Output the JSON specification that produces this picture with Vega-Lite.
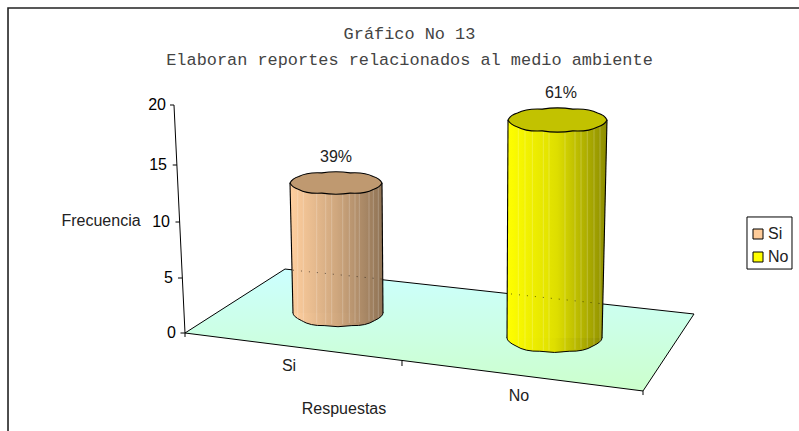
{
"$schema":"https://vega.github.io/schema/vega-lite/v6.json",
"width":799,"height":431,"padding":0,"autosize":{"type":"none"},
"background":"white",
"view":{"stroke":null},
"title":{"text":["Gráfico No 13","Elaboran reportes relacionados al medio ambiente"],"font":"Liberation Mono","fontSize":16.9,"fontWeight":"normal","color":"#444444","lineHeight":26,"anchor":"middle","dx":10,"offset":-69},
"datasets":{
"piso":[{"x":0,"y":0,"y2":0},{"x":0.4396,"y":5.8,"y2":-1.155},{"x":2.0132,"y":2.236,"y2":-5.27},{"x":2.2374,"y":1.727,"y2":1.727}],
"cuerpo":[
{"respuesta":"Si","frecuencia":11,"x":0.4615,"y":13.42,"y2":13.42},{"respuesta":"Si","frecuencia":11,"x":0.4747,"y":13.42,"y2":1.82},{"respuesta":"Si","frecuencia":11,"x":0.8659,"y":13.42,"y2":1.82},{"respuesta":"Si","frecuencia":11,"x":0.8703,"y":1.82,"y2":1.82},
{"respuesta":"No","frecuencia":17,"x":1.4154,"y":-0.45,"y2":-0.45},{"respuesta":"No","frecuencia":17,"x":1.4198,"y":18.75,"y2":-0.45},{"respuesta":"No","frecuencia":17,"x":1.833,"y":18.75,"y2":-0.45},{"respuesta":"No","frecuencia":17,"x":1.8549,"y":18.75,"y2":18.75}],
"lineas":[
{"g":"piso","o":1,"x":0,"y":0},{"g":"piso","o":2,"x":0.4396,"y":5.8},{"g":"piso","o":3,"x":2.2374,"y":1.727},{"g":"piso","o":4,"x":2.0132,"y":-5.27},{"g":"piso","o":5,"x":0,"y":0},
{"g":"eje","o":1,"x":-0.0484,"y":20},{"g":"eje","o":2,"x":0,"y":0},
{"g":"t20","o":1,"x":-0.0659,"y":20},{"g":"t20","o":2,"x":-0.0484,"y":20},
{"g":"t15","o":1,"x":-0.054,"y":15},{"g":"t15","o":2,"x":-0.0356,"y":15},
{"g":"t10","o":1,"x":-0.0418,"y":10},{"g":"t10","o":2,"x":-0.0237,"y":10},
{"g":"t5","o":1,"x":-0.0308,"y":5},{"g":"t5","o":2,"x":-0.0119,"y":5},
{"g":"t0","o":1,"x":-0.0198,"y":0},{"g":"t0","o":2,"x":0,"y":0},
{"g":"c0","o":1,"x":0,"y":0},{"g":"c0","o":2,"x":0,"y":-0.36},
{"g":"c1","o":1,"x":0.9538,"y":-2.52},{"g":"c1","o":2,"x":0.9538,"y":-3},
{"g":"c2","o":1,"x":2.0132,"y":-5.27},{"g":"c2","o":2,"x":2.0132,"y":-5.64},
{"g":"ley","o":1,"x":2.4703,"y":10.44},{"g":"ley","o":2,"x":2.6681,"y":10.44},{"g":"ley","o":3,"x":2.6681,"y":5.8},{"g":"ley","o":4,"x":2.4703,"y":5.8},{"g":"ley","o":5,"x":2.4703,"y":10.44}],
"lados":[
{"g":"a","o":1,"x":0.4615,"y":13.42},{"g":"a","o":2,"x":0.4747,"y":1.82},
{"g":"b","o":1,"x":0.8659,"y":13.42},{"g":"b","o":2,"x":0.8703,"y":1.82},
{"g":"c","o":1,"x":1.4198,"y":18.75},{"g":"c","o":2,"x":1.4154,"y":-0.45},
{"g":"d","o":1,"x":1.8549,"y":18.75},{"g":"d","o":2,"x":1.833,"y":-0.45}],
"punteado":[
{"g":"a","o":1,"x":0.4747,"y":5.7},{"g":"a","o":2,"x":0.8659,"y":4.9},
{"g":"b","o":1,"x":1.4330,"y":3.55},{"g":"b","o":2,"x":1.8374,"y":2.65}],
"facetas":[
{"x":0.4954,"a":13.42,"b":1.2},{"x":0.52,"a":13.42,"b":1.0},{"x":0.5789,"a":13.42,"b":0.9},{"x":0.6185,"a":13.42,"b":0.8},{"x":0.6448,"a":13.42,"b":0.8},{"x":0.6932,"a":13.42,"b":0.8},{"x":0.7222,"a":13.42,"b":0.9},{"x":0.7473,"a":13.42,"b":0.9},{"x":0.7662,"a":13.42,"b":1.0},{"x":0.8088,"a":13.42,"b":1.1},{"x":0.8277,"a":13.42,"b":1.2},{"x":0.8497,"a":13.42,"b":1.4},
{"x":1.4651,"a":18.75,"b":-1.2},{"x":1.4945,"a":18.75,"b":-1.4},{"x":1.5268,"a":18.75,"b":-1.5},{"x":1.575,"a":18.75,"b":-1.6},{"x":1.6,"a":18.75,"b":-1.6},{"x":1.6703,"a":18.75,"b":-1.6},{"x":1.7143,"a":18.75,"b":-1.5},{"x":1.7407,"a":18.75,"b":-1.4},{"x":1.7683,"a":18.75,"b":-1.3},{"x":1.7978,"a":18.75,"b":-1.1},{"x":1.8242,"a":18.75,"b":-0.9}],
"textos":[
{"t":"39%","x":0.6637,"y":15.67},{"t":"61%","x":1.6527,"y":21.03},
{"t":"Si","x":0.4571,"y":-3.0},{"t":"No","x":1.4681,"y":-5.73},
{"t":"Respuestas","x":0.6989,"y":-6.91},{"t":"Frecuencia","x":-0.3692,"y":10.05}],
"eje_y":[{"t":"20","x":-0.0835,"y":20},{"t":"15","x":-0.0791,"y":15},{"t":"10","x":-0.0659,"y":10},{"t":"5","x":-0.0527,"y":5},{"t":"0","x":-0.0396,"y":0}]
},
"data":{"values":[{"x":-0.778,"y":-8.909,"o":1},{"x":-0.778,"y":28.083,"o":2},{"x":2.6989,"y":28.083,"o":3}]},
"encoding":{
"x":{"field":"x","type":"quantitative","axis":null,"scale":{"domain":[-0.8132,2.6989],"range":[0,799],"nice":false,"zero":false}},
"y":{"field":"y","type":"quantitative","axis":null,"scale":{"domain":[-8.909,0,5,10,15,20,28.75],"range":[431,333,278,222,165,105,0],"nice":false,"zero":false}}
},
"layer":[
{"mark":{"type":"line","stroke":"#222222","strokeWidth":1.6},"encoding":{"order":{"field":"o","type":"ordinal"}}},
{"data":{"name":"piso"},"mark":{"type":"area","orient":"vertical","color":{"gradient":"linear","x1":0,"y1":0,"x2":0,"y2":1,"stops":[{"offset":0,"color":"#CCFFFF"},{"offset":1,"color":"#CCFFCC"}]}},"encoding":{"y2":{"field":"y2"}}},
{"data":{"name":"lineas"},"mark":{"type":"line","stroke":"#000000","strokeWidth":1},"encoding":{"detail":{"field":"g"},"order":{"field":"o","type":"quantitative"}}},
{"data":{"values":[{"x":0.6725,"y":1.82}]},"mark":{"type":"point","filled":true,"size":8100,"opacity":1,"stroke":"#000000","strokeWidth":1,"shape":"M-1,0 Q-1,-.06 -.809,-.17 Q-.62,-.29 -.309,-.28 Q0,-.33 .309,-.28 Q.62,-.29 .809,-.17 Q1,-.06 1,0 Q1,.08 .809,.17 Q.62,.29 .309,.28 Q0,.33 -.309,.28 Q-.62,.29 -.809,.17 Q-1,.08 -1,0 Z","color":{"gradient":"linear","x1":0,"y1":0,"x2":1,"y2":0,"stops":[{"offset":0,"color":"#FFCF9F"},{"offset":0.5,"color":"#CFA77E"},{"offset":1,"color":"#8F7355"}]}}},
{"data":{"values":[{"x":1.6242,"y":-0.45}]},"mark":{"type":"point","filled":true,"size":9025,"opacity":1,"stroke":"#000000","strokeWidth":1,"shape":"M-1,0 Q-1,-.06 -.809,-.17 Q-.62,-.29 -.309,-.28 Q0,-.33 .309,-.28 Q.62,-.29 .809,-.17 Q1,-.06 1,0 Q1,.08 .809,.17 Q.62,.29 .309,.28 Q0,.33 -.309,.28 Q-.62,.29 -.809,.17 Q-1,.08 -1,0 Z","color":{"gradient":"linear","x1":0,"y1":0,"x2":1,"y2":0,"stops":[{"offset":0,"color":"#FFFF00"},{"offset":0.5,"color":"#DEDE00"},{"offset":1,"color":"#8C8C00"}]}}},
{"data":{"name":"cuerpo"},"mark":{"type":"area","orient":"vertical"},"encoding":{"y2":{"field":"y2"},"color":{"field":"respuesta","type":"nominal","scale":{"domain":["Si","No"],"range":["#FFCC99","#FFFF00"]},"legend":{"title":null,"orient":"none","legendX":750,"legendY":226,"padding":0,"symbolType":"square","symbolSize":100,"symbolStrokeColor":"#000000","symbolStrokeWidth":1,"symbolOpacity":1,"labelFont":"Liberation Sans","labelFontSize":16,"labelColor":"#222222","labelOffset":2,"rowPadding":7,"symbolOffset":0}}}},
{"data":{"name":"cuerpo"},"transform":[{"filter":"datum.respuesta==='Si'"}],"mark":{"type":"area","orient":"vertical","color":{"gradient":"linear","x1":0,"y1":0,"x2":1,"y2":0,"stops":[{"offset":0,"color":"#FFCF9F"},{"offset":0.5,"color":"#CFA77E"},{"offset":1,"color":"#8F7355"}]}},"encoding":{"y2":{"field":"y2"}}},
{"data":{"name":"cuerpo"},"transform":[{"filter":"datum.respuesta==='No'"}],"mark":{"type":"area","orient":"vertical","color":{"gradient":"linear","x1":0,"y1":0,"x2":1,"y2":0,"stops":[{"offset":0,"color":"#FFFF00"},{"offset":0.5,"color":"#DEDE00"},{"offset":1,"color":"#8C8C00"}]}},"encoding":{"y2":{"field":"y2"}}},
{"data":{"name":"facetas"},"mark":{"type":"rule","stroke":"#FFFFFF","strokeOpacity":0.22,"strokeWidth":1},"encoding":{"y":{"field":"a"},"y2":{"field":"b"}}},
{"data":{"name":"punteado"},"mark":{"type":"line","stroke":"#000000","strokeWidth":0.8,"strokeDash":[1,7],"opacity":0.7},"encoding":{"detail":{"field":"g"},"order":{"field":"o","type":"quantitative"}}},
{"data":{"name":"lados"},"mark":{"type":"line","stroke":"#000000","strokeWidth":1.1},"encoding":{"detail":{"field":"g"},"order":{"field":"o","type":"quantitative"}}},
{"data":{"values":[{"x":0.6637,"y":13.42}]},"mark":{"type":"point","filled":true,"fill":"#BF9970","opacity":1,"size":8464,"stroke":"#000000","strokeWidth":1.1,"shape":"M-1,0 Q-.95,-.1 -.809,-.14 Q-.62,-.24 -.309,-.22 Q0,-.27 .309,-.22 Q.62,-.24 .809,-.14 Q.95,-.1 1,0 Q.95,.1 .809,.14 Q.62,.24 .309,.22 Q0,.27 -.309,.22 Q-.62,.24 -.809,.14 Q-.95,.1 -1,0 Z"}},
{"data":{"values":[{"x":1.6374,"y":18.75}]},"mark":{"type":"point","filled":true,"fill":"#C2C200","opacity":1,"size":9801,"stroke":"#000000","strokeWidth":1.1,"shape":"M-1,0 Q-.95,-.1 -.809,-.14 Q-.62,-.24 -.309,-.22 Q0,-.27 .309,-.22 Q.62,-.24 .809,-.14 Q.95,-.1 1,0 Q.95,.1 .809,.14 Q.62,.24 .309,.22 Q0,.27 -.309,.22 Q-.62,.24 -.809,.14 Q-.95,.1 -1,0 Z"}},
{"data":{"name":"textos"},"mark":{"type":"text","font":"Liberation Sans","fontSize":16,"color":"#222222","align":"center","baseline":"middle"},"encoding":{"text":{"field":"t"}}},
{"data":{"name":"eje_y"},"mark":{"type":"text","font":"Liberation Sans","fontSize":16,"color":"#000000","align":"right","baseline":"middle"},"encoding":{"text":{"field":"t"}}}
]
}
